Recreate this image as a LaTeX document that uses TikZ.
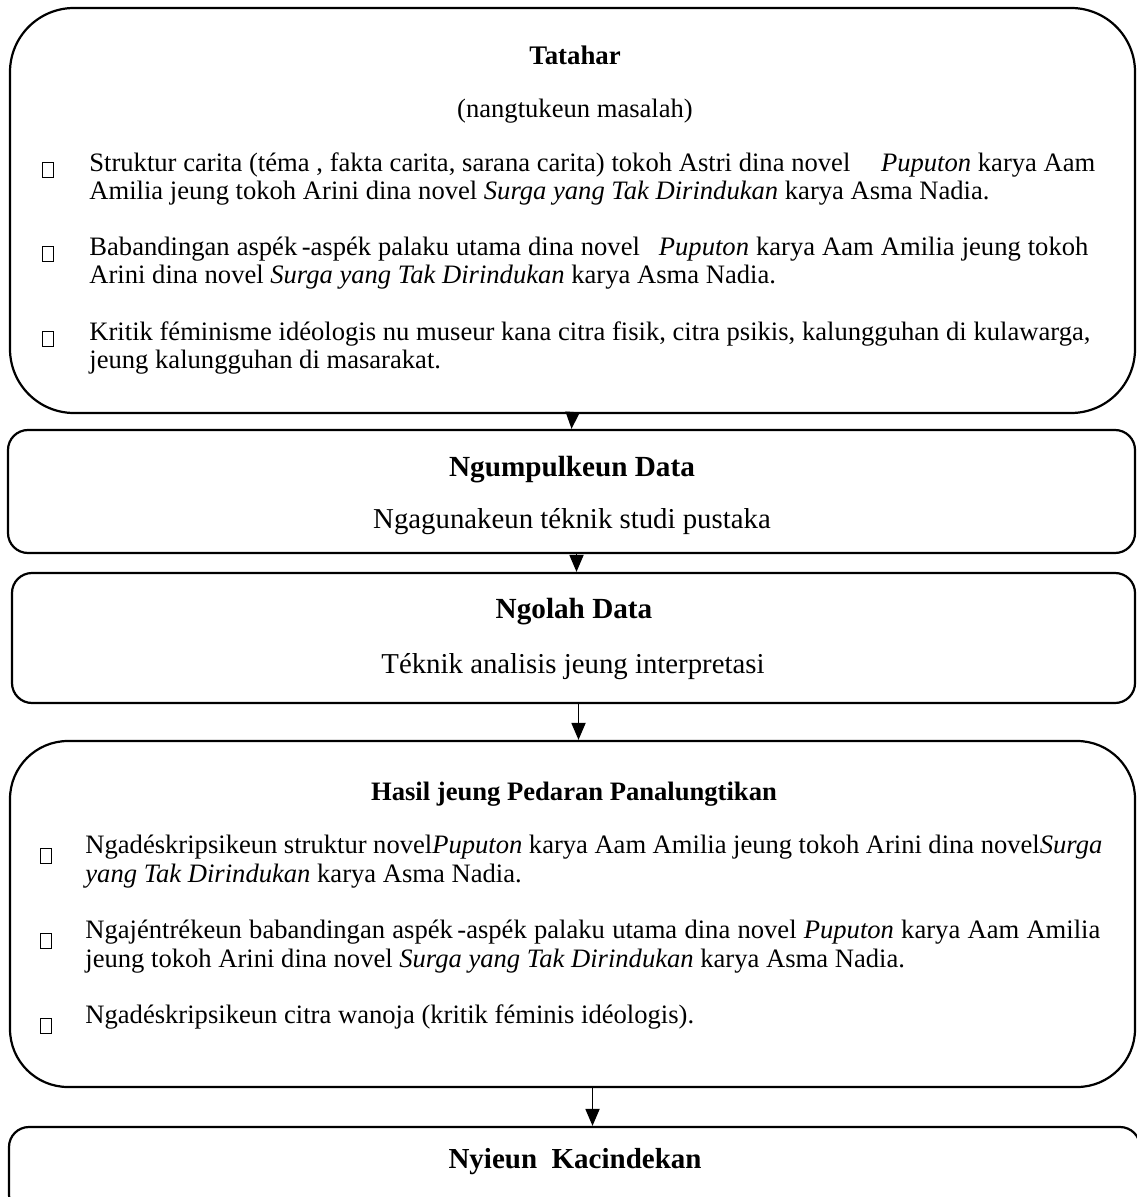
\documentclass[tikz,border=0pt]{standalone}
\usepackage{fontspec}
\setmainfont{Liberation Serif}
\usetikzlibrary{arrows.meta}
\tikzset{
  bigbox/.style={draw, line width=1.1pt, rounded corners=32pt, inner sep=0},
  smallbox/.style={draw, line width=1.1pt, rounded corners=10pt, inner sep=0},
  blt/.style={draw, line width=0.9pt, minimum width=5.5pt, minimum height=7.5pt, inner sep=0},
  body/.style={anchor=base west, inner sep=0, font=\fontsize{13.3}{14}\selectfont},
  head/.style={anchor=base, inner sep=0, font=\bfseries\fontsize{13.4}{14}\selectfont},
  bighead/.style={anchor=base, inner sep=0, font=\bfseries\fontsize{14.6}{15}\selectfont},
  sub/.style={anchor=base, inner sep=0, font=\fontsize{14.4}{15}\selectfont},
  arr/.style={-{Triangle[length=8.5pt,width=7pt]}, line width=0.9pt}
}
\newcommand{\jline}[2]{\makebox[#1][s]{#2}}

\begin{document}
\begin{tikzpicture}[x=0.5pt,y=-0.5pt]
\useasboundingbox (0,0) rectangle (1136,1197);
% kotak-kotak
\node[bigbox, minimum width=562.5pt, minimum height=202.5pt] (tatahar) at (572.5,210.5) {};
\node[smallbox, minimum width=563.5pt, minimum height=61.5pt] (kumpul) at (571.5,491.5) {};
\node[smallbox, minimum width=561.5pt, minimum height=65pt] (olah) at (573.5,638) {};
\node[bigbox, rounded corners=29pt, minimum width=562.5pt, minimum height=173pt] (hasil) at (572.5,914) {};
\node[smallbox, minimum width=565.5pt, minimum height=44pt] (kacindekan) at (574.5,1171) {};
% Tatahar
\node[head] (tatahar-t) at (575,65) {Tatahar};
\node[body, anchor=base] (tatahar-s) at (575,118) {(nangtukeun masalah)};
\node[blt] (b1) at (48,170) {};
\node[body] (t1a) at (89,172) {\jline{503pt}{Struktur carita (téma , fakta carita, sarana carita) tokoh Astri dina novel \hspace{12pt}\textit{Puputon} karya Aam}};
\node[body] (t1b) at (89,200) {Amilia jeung tokoh Arini dina novel \textit{Surga yang Tak Dirindukan} karya Asma Nadia.};
\node[blt] (b2) at (48,254) {};
\node[body] (t2a) at (89,256) {\jline{499.5pt}{Babandingan aspék\,-aspék palaku utama dina novel \hspace{6pt}\textit{Puputon} karya Aam Amilia jeung tokoh}};
\node[body] (t2b) at (89,284) {Arini dina novel \textit{Surga yang Tak Dirindukan} karya Asma Nadia.};
\node[blt] (b3) at (48,339) {};
\node[body] (t3a) at (89,341) {\jline{500.5pt}{Kritik féminisme idéologis nu museur kana citra fisik, citra psikis, kalungguhan di kulawarga,}};
\node[body] (t3b) at (89,369) {jeung kalungguhan di masarakat.};
% Ngumpulkeun Data
\node[bighead] (kumpul-t) at (572,476) {Ngumpulkeun Data};
\node[sub] (kumpul-s) at (572,528) {Ngagunakeun téknik studi pustaka};
% Ngolah Data
\node[bighead] (olah-t) at (574,618) {Ngolah Data};
\node[sub] (olah-s) at (573,673) {Téknik analisis jeung interpretasi};
% Hasil
\node[head, font=\bfseries\fontsize{13.3}{14}\selectfont] (hasil-t) at (574,800) {Hasil jeung Pedaran Panalungtikan};
\node[blt] (c1) at (46,856) {};
\node[body] (h1a) at (85,853) {\jline{508.5pt}{Ngadéskripsikeun struktur novel\textit{Puputon} karya Aam Amilia jeung tokoh Arini dina novel\textit{Surga}}};
\node[body] (h1b) at (85,882) {\textit{yang Tak Dirindukan} karya Asma Nadia.};
\node[blt] (c2) at (46,941) {};
\node[body] (h2a) at (85,938) {\jline{507.5pt}{Ngajéntrékeun babandingan aspék\,-aspék palaku utama dina novel \textit{Puputon} karya Aam Amilia}};
\node[body] (h2b) at (85,967) {jeung tokoh Arini dina novel \textit{Surga yang Tak Dirindukan} karya Asma Nadia.};
\node[blt] (c3) at (46,1026) {};
\node[body] (h3a) at (85,1023) {Ngadéskripsikeun citra wanoja (kritik féminis idéologis).};
% Kacindekan
\node[bighead, font=\bfseries\fontsize{14.5}{15}\selectfont] (kacindekan-t) at (575,1168) {Nyieun\ \ Kacindekan};
% panah
\draw[arr] (tatahar.south) -- (kumpul.north);
\draw[arr] ([xshift=2.5pt]kumpul.south) -- ([xshift=2.5pt]kumpul.south |- olah.north);
\draw[arr] ([xshift=2.5pt]olah.south) -- ([xshift=2.5pt]olah.south |- hasil.north);
\draw[arr] ([xshift=10pt]hasil.south) -- ([xshift=10pt]hasil.south |- kacindekan.north);
\end{tikzpicture}
\end{document}
